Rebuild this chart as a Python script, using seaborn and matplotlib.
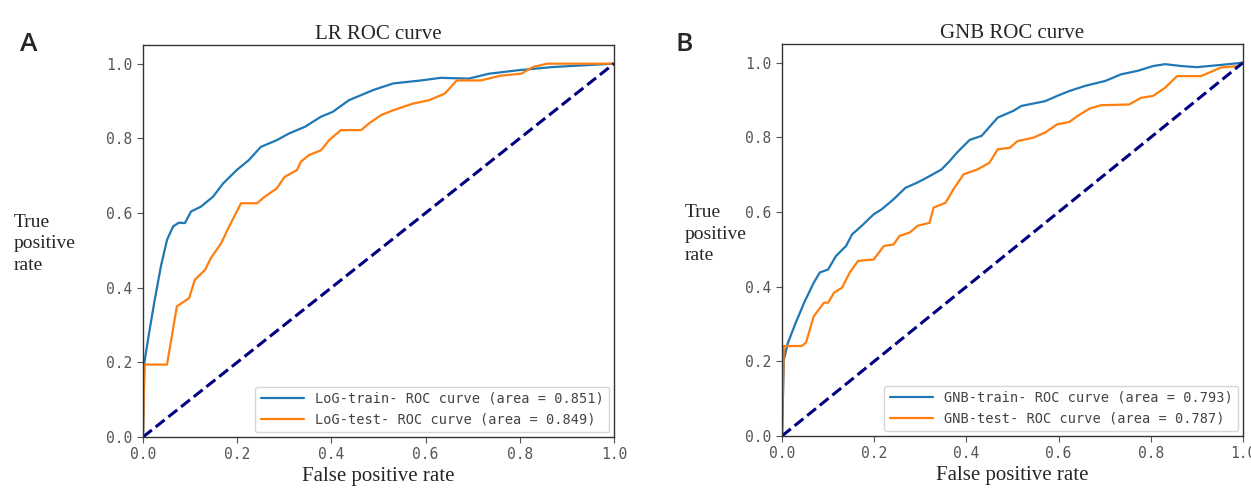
import numpy as np
import pandas as pd
import matplotlib
matplotlib.use("Agg")
import matplotlib.pyplot as plt
import seaborn as sns

# ---- data ----
lr_train_fpr = [0.0, 0.003, 0.013, 0.025, 0.038, 0.051, 0.064, 0.076, 0.089, 0.102, 0.123, 0.149,
                0.170, 0.199, 0.225, 0.250, 0.284, 0.310, 0.344, 0.378, 0.403, 0.437, 0.488, 0.531,
                0.590, 0.632, 0.692, 0.734, 0.794, 0.870, 1.0]
lr_train_tpr = [0.0, 0.20, 0.279, 0.368, 0.457, 0.528, 0.564, 0.574, 0.573, 0.604, 0.617, 0.644,
                0.679, 0.715, 0.742, 0.777, 0.795, 0.813, 0.831, 0.858, 0.871, 0.902, 0.929, 0.947,
                0.955, 0.962, 0.960, 0.973, 0.982, 0.991, 1.0]

lr_test_fpr = [0.0, 0.003, 0.051, 0.072, 0.098, 0.110, 0.132, 0.144, 0.166, 0.183, 0.208, 0.242,
               0.259, 0.284, 0.301, 0.327, 0.335, 0.352, 0.378, 0.395, 0.420, 0.463, 0.480, 0.505,
               0.531, 0.573, 0.607, 0.641, 0.666, 0.717, 0.760, 0.803, 0.828, 0.858, 1.0]
lr_test_tpr = [0.0, 0.194, 0.194, 0.350, 0.372, 0.421, 0.448, 0.479, 0.519, 0.564, 0.626, 0.626,
               0.644, 0.666, 0.697, 0.715, 0.737, 0.755, 0.768, 0.795, 0.822, 0.822, 0.840, 0.862,
               0.875, 0.893, 0.902, 0.920, 0.955, 0.955, 0.968, 0.973, 0.991, 1.0, 1.0]

gnb_train_fpr = [0.0, 0.004, 0.013, 0.030, 0.048, 0.069, 0.082, 0.100, 0.117, 0.139, 0.152, 0.173,
                 0.199, 0.216, 0.242, 0.268, 0.294, 0.320, 0.346, 0.364, 0.381, 0.407, 0.433, 0.468,
                 0.502, 0.519, 0.571, 0.597, 0.623, 0.658, 0.701, 0.736, 0.771, 0.805, 0.831, 0.866,
                 0.900, 0.952, 1.0]
gnb_train_tpr = [0.0, 0.205, 0.250, 0.304, 0.357, 0.411, 0.438, 0.446, 0.482, 0.509, 0.540, 0.563,
                 0.594, 0.607, 0.634, 0.665, 0.679, 0.696, 0.714, 0.737, 0.761, 0.793, 0.804, 0.853,
                 0.871, 0.884, 0.897, 0.911, 0.924, 0.938, 0.951, 0.969, 0.978, 0.991, 0.996, 0.991,
                 0.988, 0.994, 1.0]

gnb_test_fpr = [0.0, 0.004, 0.043, 0.052, 0.069, 0.091, 0.100, 0.113, 0.130, 0.147, 0.165, 0.199,
                0.221, 0.242, 0.255, 0.277, 0.294, 0.320, 0.329, 0.355, 0.372, 0.394, 0.424, 0.450,
                0.468, 0.494, 0.511, 0.545, 0.571, 0.597, 0.623, 0.641, 0.667, 0.692, 0.753, 0.779,
                0.805, 0.831, 0.857, 0.909, 0.952, 0.99, 1.0]
gnb_test_tpr = [0.0, 0.241, 0.241, 0.250, 0.321, 0.357, 0.357, 0.384, 0.397, 0.438, 0.469, 0.473,
                0.509, 0.513, 0.536, 0.545, 0.563, 0.571, 0.612, 0.625, 0.661, 0.701, 0.714, 0.732,
                0.768, 0.772, 0.790, 0.799, 0.813, 0.835, 0.841, 0.857, 0.877, 0.886, 0.888, 0.906,
                0.911, 0.933, 0.964, 0.964, 0.987, 0.991, 1.0]

panels = [
    {"tag": "A", "title": "LR ROC curve", "prefix": "LoG",
     "train": (lr_train_fpr, lr_train_tpr), "test": (lr_test_fpr, lr_test_tpr),
     "auc": (0.851, 0.849)},
    {"tag": "B", "title": "GNB ROC curve", "prefix": "GNB",
     "train": (gnb_train_fpr, gnb_train_tpr), "test": (gnb_test_fpr, gnb_test_tpr),
     "auc": (0.793, 0.787)},
]

sns.set_style("ticks")
plt.rcParams["font.family"] = ["DejaVu Sans"]

fig = plt.figure(figsize=(12.51, 4.88), dpi=100)
axes = [fig.add_axes([0.1143, 0.1045, 0.3765, 0.8033]),
        fig.add_axes([0.6251, 0.1066, 0.3685, 0.8032])]
ylab_x = [0.011, 0.547]
ylab_y = [0.50, 0.52]
tag_x = [0.016, 0.540]

for i, (ax, p) in enumerate(zip(axes, panels)):
    rows = []
    for split, (fpr, tpr), auc in zip(["train", "test"], [p["train"], p["test"]], p["auc"]):
        lab = f"{p['prefix']}-{split}- ROC curve (area = {auc:.3f})"
        rows.append(pd.DataFrame({"fpr": fpr, "tpr": tpr, "curve": lab}))
    df = pd.concat(rows, ignore_index=True)
    sns.lineplot(data=df, x="fpr", y="tpr", hue="curve", ax=ax, sort=False, estimator=None,
                 palette=["#1f77b4", "#ff7f0e"], linewidth=1.6)
    sns.lineplot(x=[0, 1], y=[0, 1], ax=ax, color="navy", linestyle="--", linewidth=2.2)

    ax.set_xlim(0, 1.0)
    ax.set_ylim(0, 1.05)
    ax.set_xticks(np.arange(0, 1.01, 0.2))
    ax.set_yticks(np.arange(0, 1.01, 0.2))
    ax.tick_params(labelsize=10.5, colors="#555555", length=4)
    for lbl in ax.get_xticklabels() + ax.get_yticklabels():
        lbl.set_family("DejaVu Sans Mono")
    for s in ax.spines.values():
        s.set_color("#333333")
        s.set_linewidth(1.0)

    ax.set_title(p["title"], family="Liberation Serif", fontsize=15, pad=4)
    ax.set_xlabel("False positive rate", family="Liberation Serif", fontsize=15, labelpad=3)
    ax.set_ylabel("")
    fig.text(ylab_x[i], ylab_y[i], "True\npositive\nrate", family="Liberation Serif",
             fontsize=14, ha="left", va="center", linespacing=1.35)
    fig.text(tag_x[i], 0.935, p["tag"], fontsize=19, ha="left", va="top",
             family="Open Sans", weight="semibold")

    leg = ax.legend(loc="lower right", prop={"family": "DejaVu Sans Mono", "size": 9.8},
                    frameon=True, handlelength=3.2, borderaxespad=0.35)
    leg.get_frame().set_edgecolor("#cccccc")
    for t in leg.get_texts():
        t.set_color("#444444")

fig.savefig("out.png", dpi=100)
